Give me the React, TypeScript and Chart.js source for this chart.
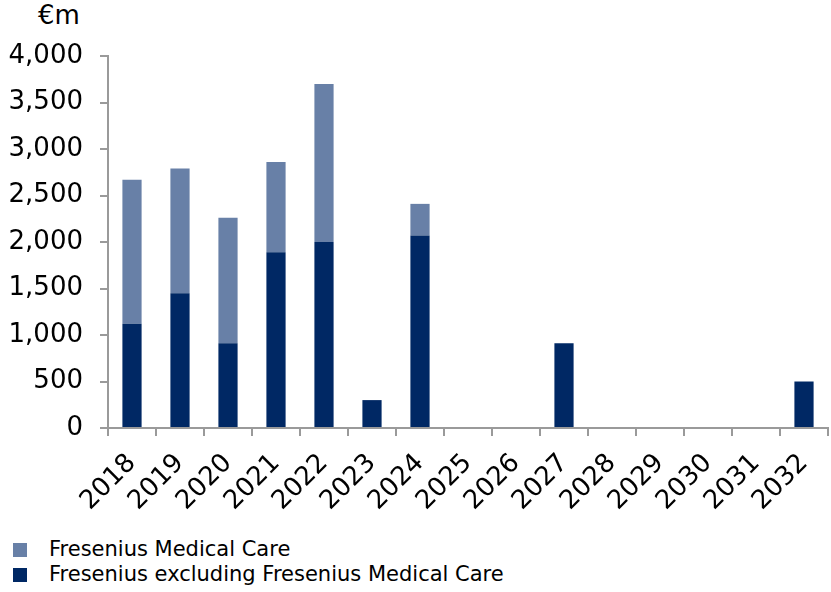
import React, { useEffect, useRef } from "react";
import { Chart, registerables } from "chart.js";

Chart.register(...registerables);

const years = ["2018", "2019", "2020", "2021", "2022", "2023", "2024", "2025", "2026", "2027", "2028", "2029", "2030", "2031", "2032"];
const exclFmc = [1120, 1450, 910, 1890, 2000, 300, 2070, 0, 0, 910, 0, 0, 0, 0, 500];
const fmc = [1550, 1340, 1350, 970, 1700, 0, 340, 0, 0, 0, 0, 0, 0, 0, 0];
const seriesNames = ["Fresenius excluding Fresenius Medical Care", "Fresenius Medical Care"];
const unitLabel = "€m";

const DARK = "#002864";
const LIGHT = "#6880a7";
const AXIS = "#9a9a9a";
const FONT = "'DejaVu Sans', Verdana, sans-serif";

export default function App() {
  const ref = useRef<HTMLCanvasElement | null>(null);

  useEffect(() => {
    if (!ref.current) return;
    const chart = new Chart(ref.current, {
      type: "bar",
      data: {
        labels: years,
        datasets: [
          { label: seriesNames[0], data: exclFmc, backgroundColor: DARK, borderWidth: 0 },
          { label: seriesNames[1], data: fmc, backgroundColor: LIGHT, borderWidth: 0 },
        ],
      },
      options: {
        animation: false,
        responsive: true,
        maintainAspectRatio: false,
        layout: { padding: { left: 0, right: 3, top: 56, bottom: 0 } },
        datasets: { bar: { barPercentage: 0.4, categoryPercentage: 1 } },
        plugins: { legend: { display: false }, tooltip: { enabled: false }, title: { display: false } },
        scales: {
          x: {
            stacked: true,
            border: { color: AXIS, width: 2 },
            grid: { drawOnChartArea: false, drawTicks: true, tickLength: 8, color: AXIS, lineWidth: 2, offset: true },
            ticks: {
              autoSkip: false,
              minRotation: 45,
              maxRotation: 45,
              padding: 12,
              color: "#000",
              font: { family: FONT, size: 26 },
            },
            afterFit: (s: any) => {
              s.height = 103;
              s.paddingLeft = 0;
              s.paddingRight = 0;
            },
          },
          y: {
            stacked: true,
            min: 0,
            max: 4000,
            border: { color: AXIS, width: 2 },
            grid: { drawOnChartArea: false, drawTicks: true, tickLength: 8, color: AXIS, lineWidth: 2 },
            ticks: {
              stepSize: 500,
              padding: 17,
              color: "#000",
              font: { family: FONT, size: 26 },
              callback: (v: any) => Number(v).toLocaleString("en-US"),
            },
            afterFit: (s: any) => {
              s.width = 108;
            },
          },
        },
      },
    });
    return () => chart.destroy();
  }, []);

  const legendItems = [
    { name: seriesNames[1], color: LIGHT },
    { name: seriesNames[0], color: DARK },
  ];

  return (
    <div style={{ position: "absolute", left: 0, top: 0, width: 831, height: 592, background: "#fff", fontFamily: FONT }}>
      <span style={{ position: "absolute", left: 38, top: 2, fontSize: 26, lineHeight: "26px", color: "#000" }}>{unitLabel}</span>
      <div style={{ position: "absolute", left: 0, top: 0, width: 831, height: 531 }}>
        <canvas ref={ref} />
      </div>
      {legendItems.map((it, i) => (
        <React.Fragment key={it.name}>
          <div style={{ position: "absolute", left: 13, top: 543 + i * 25, width: 14, height: 14, background: it.color }} />
          <span style={{ position: "absolute", left: 49, top: 539 + i * 25, fontSize: 21, lineHeight: "21px", color: "#000", whiteSpace: "nowrap" }}>{it.name}</span>
        </React.Fragment>
      ))}
    </div>
  );
}
